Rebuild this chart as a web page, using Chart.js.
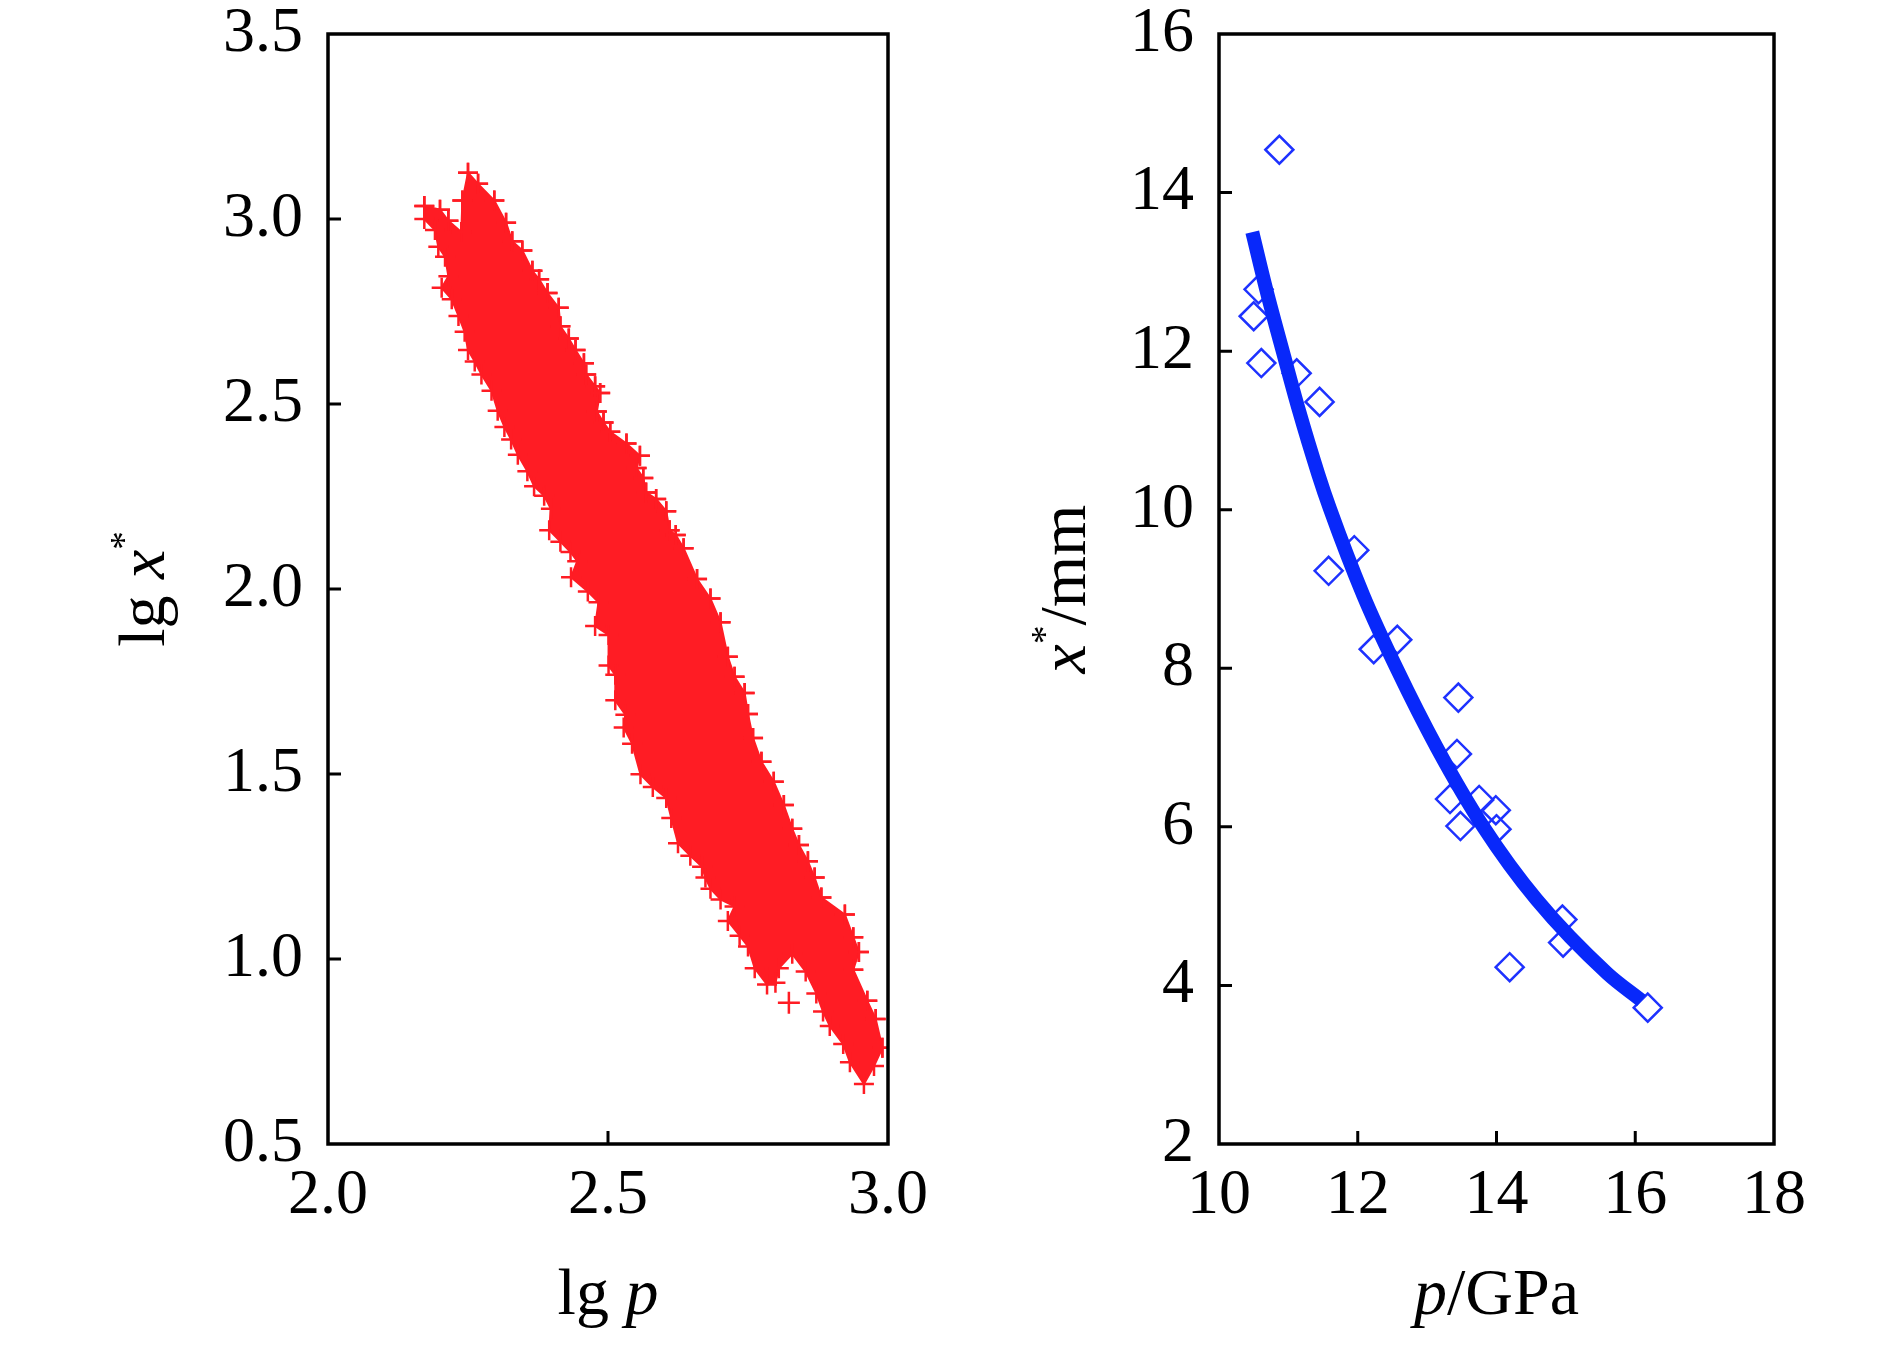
<!DOCTYPE html>
<html>
<head>
<meta charset="utf-8">
<script src="https://cdn.jsdelivr.net/npm/chart.js@4.4.0/dist/chart.umd.min.js"></script>
<style>
  html, body { margin: 0; padding: 0; background: #fff; }
  #wrap { position: relative; width: 1890px; height: 1350px; }
  canvas { position: absolute; top: 0; }
</style>
</head>
<body>
<div id="wrap">
  <canvas id="left" width="945" height="1350" style="left:0"></canvas>
  <canvas id="right" width="945" height="1350" style="left:945px"></canvas>
</div>
<script>
// left panel: outline of the lg p / lg x* point cloud
// upper edge: from the left cluster over the top, then down the right side
const upperP = [2.172, 2.200, 2.215, 2.238, 2.240, 2.250, 2.268, 2.297, 2.318, 2.329, 2.347, 2.365,
  2.377, 2.392, 2.412, 2.415, 2.430, 2.442, 2.457, 2.461, 2.477, 2.486, 2.480, 2.492, 2.504, 2.533,
  2.557, 2.551, 2.563, 2.568, 2.586, 2.604, 2.610, 2.621, 2.635, 2.659, 2.683, 2.701, 2.714, 2.726,
  2.744, 2.750, 2.759, 2.774, 2.796, 2.814, 2.829, 2.841, 2.857, 2.869, 2.881, 2.923, 2.938, 2.948,
  2.938, 2.963, 2.978, 2.990, 2.975, 2.957];
const upperX = [3.035, 3.025, 2.995, 2.965, 3.050, 3.125, 3.095, 3.050, 2.990, 2.940, 2.915, 2.860,
  2.837, 2.800, 2.760, 2.710, 2.677, 2.646, 2.610, 2.580, 2.548, 2.530, 2.480, 2.450, 2.425, 2.393,
  2.360, 2.327, 2.300, 2.261, 2.243, 2.210, 2.159, 2.146, 2.110, 2.027, 1.974, 1.910, 1.817, 1.763,
  1.719, 1.662, 1.597, 1.533, 1.479, 1.416, 1.352, 1.308, 1.264, 1.220, 1.166, 1.120, 1.059, 1.019,
  0.971, 0.887, 0.838, 0.760, 0.711, 0.662];
// lower edge: from the bottom tip back up the left side
const lowerP = [2.932, 2.920, 2.896, 2.884, 2.872, 2.853, 2.829, 2.805, 2.799, 2.784, 2.762, 2.750,
  2.735, 2.714, 2.726, 2.701, 2.683, 2.674, 2.668, 2.647, 2.625, 2.613, 2.604, 2.580, 2.558, 2.543,
  2.528, 2.531, 2.513, 2.513, 2.501, 2.501, 2.477, 2.483, 2.464, 2.434, 2.445, 2.433, 2.415, 2.395,
  2.398, 2.386, 2.368, 2.356, 2.339, 2.327, 2.315, 2.303, 2.292, 2.274, 2.262, 2.250, 2.244, 2.233,
  2.221, 2.203, 2.215, 2.209, 2.197, 2.191, 2.172];
const lowerX = [0.721, 0.770, 0.819, 0.858, 0.907, 0.966, 1.014, 0.975, 0.936, 0.931, 0.975, 1.034,
  1.063, 1.103, 1.142, 1.161, 1.190, 1.220, 1.249, 1.279, 1.313, 1.381, 1.435, 1.465, 1.499, 1.582,
  1.626, 1.660, 1.699, 1.768, 1.793, 1.876, 1.900, 1.964, 1.993, 2.032, 2.075, 2.100, 2.128, 2.159,
  2.217, 2.252, 2.278, 2.318, 2.363, 2.404, 2.438, 2.482, 2.536, 2.580, 2.615, 2.646, 2.695, 2.738,
  2.783, 2.814, 2.845, 2.898, 2.925, 2.970, 3.000];
// stray points away from the cloud
const strayP = [2.823];
const strayX = [0.882];

const leftXTicks = [2.0, 2.5, 3.0];
const leftYTicks = [0.5, 1.0, 1.5, 2.0, 2.5, 3.0, 3.5];

// right panel: measured points and fitted curve
const pGPa = [10.87, 10.57, 10.50, 10.61, 11.12, 11.45, 11.58, 11.95, 12.23, 12.57, 13.45, 13.43,
  13.33, 13.48, 13.75, 13.99, 14.00, 14.19, 14.95, 14.96, 16.18];
const xMm = [14.54, 12.78, 12.44, 11.85, 11.72, 11.36, 9.23, 9.49, 8.24, 8.36, 7.63, 6.92,
  6.35, 6.01, 6.34, 6.21, 5.97, 4.23, 4.83, 4.54, 3.72];
const fitP = [10.48, 10.68, 10.94, 11.14, 11.43, 11.60, 12.08, 12.56, 13.14, 13.81, 14.58, 15.60, 16.09];
const fitX = [13.50, 12.78, 11.93, 11.29, 10.45, 10.01, 8.92, 8.00, 7.00, 6.00, 5.08, 4.15, 3.81];

const rightXTicks = [10, 12, 14, 16, 18];
const rightYTicks = [2, 4, 6, 8, 10, 12, 14, 16];

const SERIF = "'Liberation Serif', 'Times New Roman', serif";
const tickFont = { family: SERIF, size: 64 };
const RED = '#ff1c24';
const BLUE = 'rgb(8, 40, 250)';

function pts(xs, ys) {
  return xs.map((v, i) => ({ x: v, y: ys[i] }));
}

// closed outline; the last run repeats the upper edge so the path ends at the rightmost point
const upper = pts(upperP, upperX);
const rIdx = upperP.indexOf(Math.max(...upperP));
const band = upper.concat(pts(lowerP, lowerX), upper.slice(0, rIdx + 1));

function drawRich(ctx, parts, cx, cy, rot, size) {
  const fontOf = p => (p.i ? 'italic ' : '') + Math.round(p.sup ? size * 0.56 : size) + 'px ' + SERIF;
  let w = 0;
  parts.forEach(p => { ctx.font = fontOf(p); w += ctx.measureText(p.t).width; });
  ctx.save();
  ctx.translate(cx, cy);
  ctx.rotate(rot);
  ctx.fillStyle = '#000';
  ctx.textBaseline = 'alphabetic';
  ctx.textAlign = 'left';
  let x = -w / 2;
  parts.forEach(p => {
    ctx.font = fontOf(p);
    ctx.fillText(p.t, x, p.sup ? -size * 0.42 : 0);
    x += ctx.measureText(p.t).width;
  });
  ctx.restore();
}

const framePlugin = {
  id: 'frame',
  afterDraw(chart, args, opts) {
    const { ctx, chartArea: a, scales } = chart;
    ctx.save();
    ctx.strokeStyle = '#000';
    ctx.lineWidth = 3.5;
    ctx.strokeRect(a.left, a.top, a.right - a.left, a.bottom - a.top);
    ctx.lineWidth = 3;
    ctx.beginPath();
    scales.x.ticks.forEach(t => {
      const px = scales.x.getPixelForValue(t.value);
      if (px > a.left + 3 && px < a.right - 3) { ctx.moveTo(px, a.bottom); ctx.lineTo(px, a.bottom - 13); }
    });
    scales.y.ticks.forEach(t => {
      const py = scales.y.getPixelForValue(t.value);
      if (py > a.top + 3 && py < a.bottom - 3) { ctx.moveTo(a.left, py); ctx.lineTo(a.left + 13, py); }
    });
    ctx.stroke();
    ctx.restore();
    drawRich(ctx, opts.xTitle, (a.left + a.right) / 2, opts.xTitleY, 0, 66);
    drawRich(ctx, opts.yTitle, opts.yTitleX, (a.top + a.bottom) / 2, -Math.PI / 2, 66);
  }
};

function axes(xmin, xmax, xt, ymin, ymax, yt, yWidth, fmt) {
  return {
    x: {
      type: 'linear', min: xmin, max: xmax,
      afterBuildTicks: s => { s.ticks = xt.map(v => ({ value: v })); },
      ticks: { callback: fmt, font: tickFont, color: '#000', padding: 14, maxRotation: 0, autoSkip: false },
      grid: { display: false, drawTicks: false },
      border: { display: false },
      afterFit: s => { s.height = 206; s.paddingLeft = 0; s.paddingRight = 0; }
    },
    y: {
      type: 'linear', min: ymin, max: ymax,
      afterBuildTicks: s => { s.ticks = yt.map(v => ({ value: v })); },
      ticks: { callback: fmt, font: tickFont, color: '#000', padding: 25, autoSkip: false },
      grid: { display: false, drawTicks: false },
      border: { display: false },
      afterFit: s => { s.width = yWidth; s.paddingTop = 0; s.paddingBottom = 0; }
    }
  };
}

new Chart(document.getElementById('left'), {
  type: 'scatter',
  data: {
    datasets: [
      {
        data: band,
        showLine: true,
        fill: 'shape',
        backgroundColor: RED,
        borderColor: RED,
        borderWidth: 2,
        pointStyle: 'cross',
        pointRadius: 10,
        pointBorderWidth: 2.5,
        pointBorderColor: RED
      },
      {
        data: pts(strayP, strayX),
        pointStyle: 'cross',
        pointRadius: 11,
        pointBorderWidth: 2.5,
        pointBorderColor: RED
      }
    ]
  },
  options: {
    responsive: false,
    devicePixelRatio: 1,
    animation: false,
    events: [],
    layout: { padding: { left: 0, right: 57, top: 34, bottom: 0 } },
    scales: axes(2, 3, leftXTicks, 0.5, 3.5, leftYTicks, 328, v => v.toFixed(1)),
    plugins: {
      legend: { display: false },
      tooltip: { enabled: false },
      frame: {
        xTitle: [{ t: 'lg ' }, { t: 'p', i: true }],
        yTitle: [{ t: 'lg ' }, { t: 'x', i: true }, { t: '*', sup: true }],
        xTitleY: 1314,
        yTitleX: 164
      }
    }
  },
  plugins: [framePlugin]
});

new Chart(document.getElementById('right'), {
  type: 'scatter',
  data: {
    datasets: [
      {
        data: pts(fitP, fitX),
        showLine: true,
        borderColor: BLUE,
        borderWidth: 14,
        cubicInterpolationMode: 'monotone',
        pointRadius: 0
      },
      {
        data: pts(pGPa, xMm),
        pointStyle: 'rectRot',
        pointRadius: 14,
        pointBorderWidth: 2.5,
        pointBorderColor: 'rgb(30, 50, 255)',
        pointBackgroundColor: 'rgba(0,0,0,0)'
      }
    ]
  },
  options: {
    responsive: false,
    devicePixelRatio: 1,
    animation: false,
    events: [],
    layout: { padding: { left: 0, right: 116, top: 34, bottom: 0 } },
    scales: axes(10, 18, rightXTicks, 2, 16, rightYTicks, 274, v => String(v)),
    plugins: {
      legend: { display: false },
      tooltip: { enabled: false },
      frame: {
        xTitle: [{ t: 'p', i: true }, { t: '/GPa' }],
        yTitle: [{ t: 'x', i: true }, { t: '*', sup: true }, { t: '/mm' }],
        xTitleY: 1314,
        yTitleX: 140
      }
    }
  },
  plugins: [framePlugin]
});
</script>
</body>
</html>
